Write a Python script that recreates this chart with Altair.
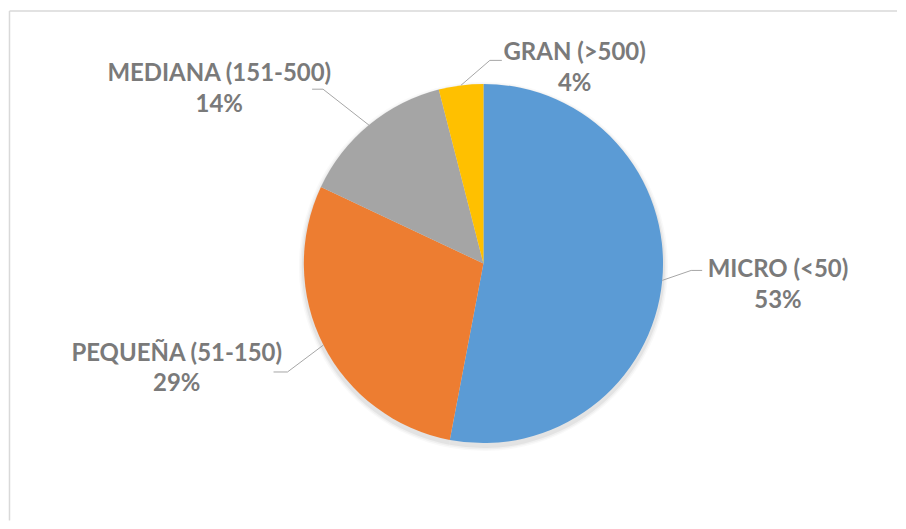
import math
import altair as alt
import pandas as pd

# ---- data ----
categories = ["MICRO (<50)", "PEQUEÑA (51-150)", "MEDIANA (151-500)", "GRAN (>500)"]
values = [53, 29, 14, 4]
colors = ["#5B9BD5", "#ED7D31", "#A5A5A5", "#FFC000"]

# ---- layout (view pixels) ----
W, H = 890, 513
CX, CY, R = 475.5, 255.5, 180
TEXT_COLOR = "#7A7A7A"
LEADER_COLOR = "#A6A6A6"
FONT = "Lato"
FS = 24
LINE_GAP = 31

# offsets relative to the rim point at each slice's mid-angle
layout = {
    "MICRO (<50)":       dict(elbow=(29, -10), end=(40, -10), label=(116, -3.5)),
    "PEQUEÑA (51-150)":  dict(elbow=(-36, 27), end=(-50, 27), label=(-147, 15.5)),
    "MEDIANA (151-500)": dict(elbow=(-46, -36), end=(-57, -36), label=(-150, -44)),
    "GRAN (>500)":       dict(elbow=(29, -25), end=(41, -25), label=(114, -25)),
}

total = sum(values)
pie_rows, lead_rows, lab_rows = [], [], []
cum = 0.0
for i, (c, v) in enumerate(zip(categories, values)):
    mid = (cum + v / 2) / total * 2 * math.pi
    cum += v
    ex = CX + R * math.sin(mid)
    ey = CY - R * math.cos(mid)
    lay = layout[c]
    pie_rows.append({"category": c, "value": v, "idx": i})
    lead_rows += [
        {"category": c, "o": 0, "x": ex, "y": ey},
        {"category": c, "o": 1, "x": ex + lay["elbow"][0], "y": ey + lay["elbow"][1]},
        {"category": c, "o": 2, "x": ex + lay["end"][0], "y": ey + lay["end"][1]},
    ]
    lx = ex + lay["label"][0]
    ly = ey + lay["label"][1]
    lab_rows.append({"category": c, "x": lx, "y": ly, "y2": ly + LINE_GAP,
                     "pct": f"{round(v / total * 100)}%"})

pie_df = pd.DataFrame(pie_rows)
lead_df = pd.DataFrame(lead_rows)
lab_df = pd.DataFrame(lab_rows)
frame_df = pd.DataFrame([
    {"x": 0.5, "y": 2.5, "x2": W, "y2": 2.5},
    {"x": 0.5, "y": 2.5, "x2": 0.5, "y2": H},
])

base = alt.Chart(pie_df)

shadows = []
for k, op in [(5, 0.025), (3.5, 0.035), (2, 0.05)]:
    shadows.append(
        base.mark_arc(outerRadius=R + k, opacity=op, color="#000000").encode(
            theta=alt.Theta("value:Q", stack=True),
            order=alt.Order("idx:Q"),
            x=alt.value(CX),
            y=alt.value(CY + 3),
        )
    )

pie = base.mark_arc(outerRadius=R).encode(
    theta=alt.Theta("value:Q", stack=True),
    color=alt.Color("category:N", scale=alt.Scale(domain=categories, range=colors), legend=None),
    order=alt.Order("idx:Q"),
    x=alt.value(CX),
    y=alt.value(CY),
)

leaders = alt.Chart(lead_df).mark_line(color=LEADER_COLOR, strokeWidth=1).encode(
    x=alt.X("x:Q", scale=None, axis=None),
    y=alt.Y("y:Q", scale=None, axis=None),
    detail="category:N",
    order="o:Q",
)

names = alt.Chart(lab_df).mark_text(
    font=FONT, fontWeight="bold", fontSize=FS, color=TEXT_COLOR,
    align="center", baseline="alphabetic",
).encode(
    x=alt.X("x:Q", scale=None, axis=None),
    y=alt.Y("y:Q", scale=None, axis=None),
    text="category:N",
)

pcts = alt.Chart(lab_df).mark_text(
    font=FONT, fontWeight="bold", fontSize=FS, color=TEXT_COLOR,
    align="center", baseline="alphabetic",
).encode(
    x=alt.X("x:Q", scale=None, axis=None),
    y=alt.Y("y2:Q", scale=None, axis=None),
    text="pct:N",
)

frame = alt.Chart(frame_df).mark_rule(color="#D9D9D9", strokeWidth=1.5).encode(
    x=alt.X("x:Q", scale=None, axis=None),
    y=alt.Y("y:Q", scale=None, axis=None),
    x2="x2:Q",
    y2="y2:Q",
)

chart = alt.layer(frame, *shadows, pie, leaders, names, pcts).properties(
    width=W, height=H, padding=0, background="white"
).configure_view(strokeWidth=0)

chart.save("out.html", embed_options={"renderer": "svg", "actions": False})
